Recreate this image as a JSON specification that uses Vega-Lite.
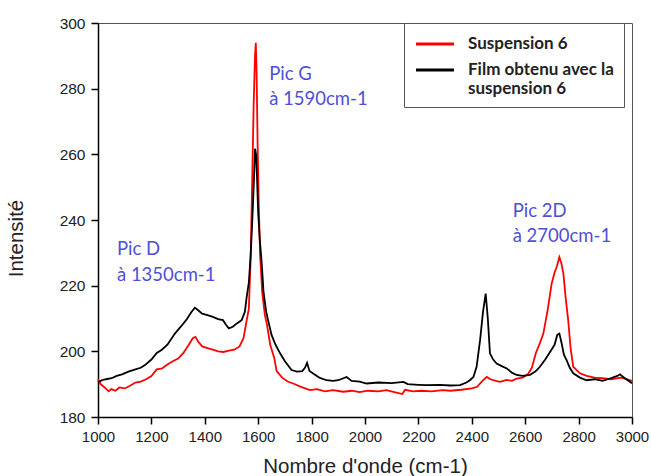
{
  "$schema": "https://vega.github.io/schema/vega-lite/v6.json",
  "width": 534,
  "height": 394,
  "autosize": "none",
  "padding": {"left": 98, "top": 23, "right": 19, "bottom": 59},
  "background": "white",
  "config": {
    "view": {"stroke": "#555", "strokeWidth": 1},
    "font": "Liberation Sans",
    "axis": {"grid": false, "domainColor": "#000", "tickColor": "#000", "domainWidth": 1.5, "tickWidth": 1.5, "labelColor": "#222", "titleColor": "#222", "labelFontSize": 15, "titleFontSize": 20.5, "titleFontWeight": "normal", "labelFont": "Liberation Sans", "titleFont": "Liberation Sans", "labelOverlap": false, "labelFlush": false}
  },
  "datasets": {
    "spectra": [
      {"wavenumber": 1000, "intensity": 191.5, "series": "Suspension 6"},
      {"wavenumber": 1010, "intensity": 190, "series": "Suspension 6"},
      {"wavenumber": 1025, "intensity": 189, "series": "Suspension 6"},
      {"wavenumber": 1040, "intensity": 187.8, "series": "Suspension 6"},
      {"wavenumber": 1050, "intensity": 188.5, "series": "Suspension 6"},
      {"wavenumber": 1065, "intensity": 188, "series": "Suspension 6"},
      {"wavenumber": 1080, "intensity": 189, "series": "Suspension 6"},
      {"wavenumber": 1100, "intensity": 188.7, "series": "Suspension 6"},
      {"wavenumber": 1120, "intensity": 189.5, "series": "Suspension 6"},
      {"wavenumber": 1140, "intensity": 190.5, "series": "Suspension 6"},
      {"wavenumber": 1160, "intensity": 190.8, "series": "Suspension 6"},
      {"wavenumber": 1180, "intensity": 191.5, "series": "Suspension 6"},
      {"wavenumber": 1200, "intensity": 192.5, "series": "Suspension 6"},
      {"wavenumber": 1220, "intensity": 194.5, "series": "Suspension 6"},
      {"wavenumber": 1240, "intensity": 194.8, "series": "Suspension 6"},
      {"wavenumber": 1260, "intensity": 196, "series": "Suspension 6"},
      {"wavenumber": 1280, "intensity": 197, "series": "Suspension 6"},
      {"wavenumber": 1300, "intensity": 197.8, "series": "Suspension 6"},
      {"wavenumber": 1320, "intensity": 199.5, "series": "Suspension 6"},
      {"wavenumber": 1340, "intensity": 202, "series": "Suspension 6"},
      {"wavenumber": 1355, "intensity": 204, "series": "Suspension 6"},
      {"wavenumber": 1365, "intensity": 204.4, "series": "Suspension 6"},
      {"wavenumber": 1375, "intensity": 203, "series": "Suspension 6"},
      {"wavenumber": 1390, "intensity": 201.5, "series": "Suspension 6"},
      {"wavenumber": 1410, "intensity": 201, "series": "Suspension 6"},
      {"wavenumber": 1430, "intensity": 200.5, "series": "Suspension 6"},
      {"wavenumber": 1450, "intensity": 200, "series": "Suspension 6"},
      {"wavenumber": 1470, "intensity": 199.8, "series": "Suspension 6"},
      {"wavenumber": 1490, "intensity": 200.2, "series": "Suspension 6"},
      {"wavenumber": 1510, "intensity": 200.5, "series": "Suspension 6"},
      {"wavenumber": 1530, "intensity": 201.5, "series": "Suspension 6"},
      {"wavenumber": 1545, "intensity": 204, "series": "Suspension 6"},
      {"wavenumber": 1557, "intensity": 209.5, "series": "Suspension 6"},
      {"wavenumber": 1565, "intensity": 213, "series": "Suspension 6"},
      {"wavenumber": 1572, "intensity": 229, "series": "Suspension 6"},
      {"wavenumber": 1577, "intensity": 250, "series": "Suspension 6"},
      {"wavenumber": 1583, "intensity": 275, "series": "Suspension 6"},
      {"wavenumber": 1588, "intensity": 290, "series": "Suspension 6"},
      {"wavenumber": 1591, "intensity": 294, "series": "Suspension 6"},
      {"wavenumber": 1594, "intensity": 285, "series": "Suspension 6"},
      {"wavenumber": 1598, "intensity": 262, "series": "Suspension 6"},
      {"wavenumber": 1602, "intensity": 245, "series": "Suspension 6"},
      {"wavenumber": 1607, "intensity": 229.7, "series": "Suspension 6"},
      {"wavenumber": 1615, "intensity": 218, "series": "Suspension 6"},
      {"wavenumber": 1625, "intensity": 211, "series": "Suspension 6"},
      {"wavenumber": 1632, "intensity": 208.5, "series": "Suspension 6"},
      {"wavenumber": 1645, "intensity": 202, "series": "Suspension 6"},
      {"wavenumber": 1660, "intensity": 198, "series": "Suspension 6"},
      {"wavenumber": 1669, "intensity": 194, "series": "Suspension 6"},
      {"wavenumber": 1690, "intensity": 192, "series": "Suspension 6"},
      {"wavenumber": 1710, "intensity": 190.8, "series": "Suspension 6"},
      {"wavenumber": 1731, "intensity": 190.2, "series": "Suspension 6"},
      {"wavenumber": 1760, "intensity": 189.2, "series": "Suspension 6"},
      {"wavenumber": 1794, "intensity": 188.2, "series": "Suspension 6"},
      {"wavenumber": 1820, "intensity": 188.5, "series": "Suspension 6"},
      {"wavenumber": 1850, "intensity": 187.8, "series": "Suspension 6"},
      {"wavenumber": 1880, "intensity": 188.2, "series": "Suspension 6"},
      {"wavenumber": 1919, "intensity": 187.7, "series": "Suspension 6"},
      {"wavenumber": 1950, "intensity": 188, "series": "Suspension 6"},
      {"wavenumber": 1980, "intensity": 187.6, "series": "Suspension 6"},
      {"wavenumber": 2010, "intensity": 188, "series": "Suspension 6"},
      {"wavenumber": 2050, "intensity": 187.8, "series": "Suspension 6"},
      {"wavenumber": 2080, "intensity": 188.2, "series": "Suspension 6"},
      {"wavenumber": 2110, "intensity": 187.6, "series": "Suspension 6"},
      {"wavenumber": 2140, "intensity": 187, "series": "Suspension 6"},
      {"wavenumber": 2150, "intensity": 188.3, "series": "Suspension 6"},
      {"wavenumber": 2180, "intensity": 187.8, "series": "Suspension 6"},
      {"wavenumber": 2210, "intensity": 188, "series": "Suspension 6"},
      {"wavenumber": 2250, "intensity": 187.8, "series": "Suspension 6"},
      {"wavenumber": 2290, "intensity": 188.2, "series": "Suspension 6"},
      {"wavenumber": 2320, "intensity": 188, "series": "Suspension 6"},
      {"wavenumber": 2360, "intensity": 188.3, "series": "Suspension 6"},
      {"wavenumber": 2400, "intensity": 188.7, "series": "Suspension 6"},
      {"wavenumber": 2420, "intensity": 189.2, "series": "Suspension 6"},
      {"wavenumber": 2440, "intensity": 191, "series": "Suspension 6"},
      {"wavenumber": 2456, "intensity": 192.2, "series": "Suspension 6"},
      {"wavenumber": 2470, "intensity": 191.5, "series": "Suspension 6"},
      {"wavenumber": 2490, "intensity": 191, "series": "Suspension 6"},
      {"wavenumber": 2506, "intensity": 190.7, "series": "Suspension 6"},
      {"wavenumber": 2530, "intensity": 191.3, "series": "Suspension 6"},
      {"wavenumber": 2550, "intensity": 191, "series": "Suspension 6"},
      {"wavenumber": 2568, "intensity": 191.7, "series": "Suspension 6"},
      {"wavenumber": 2590, "intensity": 192, "series": "Suspension 6"},
      {"wavenumber": 2610, "intensity": 193, "series": "Suspension 6"},
      {"wavenumber": 2625, "intensity": 195, "series": "Suspension 6"},
      {"wavenumber": 2640, "intensity": 199.5, "series": "Suspension 6"},
      {"wavenumber": 2655, "intensity": 202.5, "series": "Suspension 6"},
      {"wavenumber": 2668, "intensity": 205.4, "series": "Suspension 6"},
      {"wavenumber": 2685, "intensity": 213, "series": "Suspension 6"},
      {"wavenumber": 2699, "intensity": 220.6, "series": "Suspension 6"},
      {"wavenumber": 2710, "intensity": 224, "series": "Suspension 6"},
      {"wavenumber": 2718, "intensity": 225.7, "series": "Suspension 6"},
      {"wavenumber": 2728, "intensity": 228.7, "series": "Suspension 6"},
      {"wavenumber": 2735, "intensity": 227, "series": "Suspension 6"},
      {"wavenumber": 2743, "intensity": 223.7, "series": "Suspension 6"},
      {"wavenumber": 2752, "intensity": 216, "series": "Suspension 6"},
      {"wavenumber": 2761, "intensity": 209.5, "series": "Suspension 6"},
      {"wavenumber": 2770, "intensity": 201, "series": "Suspension 6"},
      {"wavenumber": 2780, "intensity": 195.3, "series": "Suspension 6"},
      {"wavenumber": 2805, "intensity": 193.3, "series": "Suspension 6"},
      {"wavenumber": 2830, "intensity": 192.5, "series": "Suspension 6"},
      {"wavenumber": 2860, "intensity": 192, "series": "Suspension 6"},
      {"wavenumber": 2890, "intensity": 191.8, "series": "Suspension 6"},
      {"wavenumber": 2920, "intensity": 191.5, "series": "Suspension 6"},
      {"wavenumber": 2960, "intensity": 192, "series": "Suspension 6"},
      {"wavenumber": 3000, "intensity": 191, "series": "Suspension 6"},
      {"wavenumber": 1000, "intensity": 190.5, "series": "Film obtenu avec la suspension 6"},
      {"wavenumber": 1014, "intensity": 191.2, "series": "Film obtenu avec la suspension 6"},
      {"wavenumber": 1030, "intensity": 191.5, "series": "Film obtenu avec la suspension 6"},
      {"wavenumber": 1051, "intensity": 191.8, "series": "Film obtenu avec la suspension 6"},
      {"wavenumber": 1070, "intensity": 192.5, "series": "Film obtenu avec la suspension 6"},
      {"wavenumber": 1090, "intensity": 193, "series": "Film obtenu avec la suspension 6"},
      {"wavenumber": 1114, "intensity": 193.8, "series": "Film obtenu avec la suspension 6"},
      {"wavenumber": 1140, "intensity": 194.5, "series": "Film obtenu avec la suspension 6"},
      {"wavenumber": 1160, "intensity": 195, "series": "Film obtenu avec la suspension 6"},
      {"wavenumber": 1176, "intensity": 195.8, "series": "Film obtenu avec la suspension 6"},
      {"wavenumber": 1200, "intensity": 197.5, "series": "Film obtenu avec la suspension 6"},
      {"wavenumber": 1220, "intensity": 199.5, "series": "Film obtenu avec la suspension 6"},
      {"wavenumber": 1238, "intensity": 200.4, "series": "Film obtenu avec la suspension 6"},
      {"wavenumber": 1260, "intensity": 202, "series": "Film obtenu avec la suspension 6"},
      {"wavenumber": 1288, "intensity": 205.4, "series": "Film obtenu avec la suspension 6"},
      {"wavenumber": 1310, "intensity": 207.5, "series": "Film obtenu avec la suspension 6"},
      {"wavenumber": 1330, "intensity": 209.5, "series": "Film obtenu avec la suspension 6"},
      {"wavenumber": 1350, "intensity": 212, "series": "Film obtenu avec la suspension 6"},
      {"wavenumber": 1363, "intensity": 213.3, "series": "Film obtenu avec la suspension 6"},
      {"wavenumber": 1375, "intensity": 212.5, "series": "Film obtenu avec la suspension 6"},
      {"wavenumber": 1390, "intensity": 211.5, "series": "Film obtenu avec la suspension 6"},
      {"wavenumber": 1410, "intensity": 211, "series": "Film obtenu avec la suspension 6"},
      {"wavenumber": 1430, "intensity": 210.5, "series": "Film obtenu avec la suspension 6"},
      {"wavenumber": 1450, "intensity": 209.8, "series": "Film obtenu avec la suspension 6"},
      {"wavenumber": 1468, "intensity": 209.5, "series": "Film obtenu avec la suspension 6"},
      {"wavenumber": 1480, "intensity": 208, "series": "Film obtenu avec la suspension 6"},
      {"wavenumber": 1490, "intensity": 207, "series": "Film obtenu avec la suspension 6"},
      {"wavenumber": 1505, "intensity": 207.5, "series": "Film obtenu avec la suspension 6"},
      {"wavenumber": 1520, "intensity": 208.5, "series": "Film obtenu avec la suspension 6"},
      {"wavenumber": 1538, "intensity": 209.5, "series": "Film obtenu avec la suspension 6"},
      {"wavenumber": 1550, "intensity": 212, "series": "Film obtenu avec la suspension 6"},
      {"wavenumber": 1557, "intensity": 216.6, "series": "Film obtenu avec la suspension 6"},
      {"wavenumber": 1565, "intensity": 221, "series": "Film obtenu avec la suspension 6"},
      {"wavenumber": 1572, "intensity": 229.7, "series": "Film obtenu avec la suspension 6"},
      {"wavenumber": 1578, "intensity": 240, "series": "Film obtenu avec la suspension 6"},
      {"wavenumber": 1584, "intensity": 252, "series": "Film obtenu avec la suspension 6"},
      {"wavenumber": 1588, "intensity": 261.7, "series": "Film obtenu avec la suspension 6"},
      {"wavenumber": 1592, "intensity": 260, "series": "Film obtenu avec la suspension 6"},
      {"wavenumber": 1596, "intensity": 252, "series": "Film obtenu avec la suspension 6"},
      {"wavenumber": 1600, "intensity": 242, "series": "Film obtenu avec la suspension 6"},
      {"wavenumber": 1606, "intensity": 234, "series": "Film obtenu avec la suspension 6"},
      {"wavenumber": 1613, "intensity": 227, "series": "Film obtenu avec la suspension 6"},
      {"wavenumber": 1620, "intensity": 218, "series": "Film obtenu avec la suspension 6"},
      {"wavenumber": 1630, "intensity": 212, "series": "Film obtenu avec la suspension 6"},
      {"wavenumber": 1637, "intensity": 209.5, "series": "Film obtenu avec la suspension 6"},
      {"wavenumber": 1650, "intensity": 205, "series": "Film obtenu avec la suspension 6"},
      {"wavenumber": 1665, "intensity": 202, "series": "Film obtenu avec la suspension 6"},
      {"wavenumber": 1682, "intensity": 199.4, "series": "Film obtenu avec la suspension 6"},
      {"wavenumber": 1700, "intensity": 197, "series": "Film obtenu avec la suspension 6"},
      {"wavenumber": 1725, "intensity": 194.3, "series": "Film obtenu avec la suspension 6"},
      {"wavenumber": 1745, "intensity": 193.8, "series": "Film obtenu avec la suspension 6"},
      {"wavenumber": 1765, "intensity": 194, "series": "Film obtenu avec la suspension 6"},
      {"wavenumber": 1775, "intensity": 195, "series": "Film obtenu avec la suspension 6"},
      {"wavenumber": 1783, "intensity": 196.5, "series": "Film obtenu avec la suspension 6"},
      {"wavenumber": 1792, "intensity": 194, "series": "Film obtenu avec la suspension 6"},
      {"wavenumber": 1810, "intensity": 193, "series": "Film obtenu avec la suspension 6"},
      {"wavenumber": 1831, "intensity": 191.9, "series": "Film obtenu avec la suspension 6"},
      {"wavenumber": 1856, "intensity": 191.2, "series": "Film obtenu avec la suspension 6"},
      {"wavenumber": 1880, "intensity": 191, "series": "Film obtenu avec la suspension 6"},
      {"wavenumber": 1900, "intensity": 191.2, "series": "Film obtenu avec la suspension 6"},
      {"wavenumber": 1931, "intensity": 192.2, "series": "Film obtenu avec la suspension 6"},
      {"wavenumber": 1950, "intensity": 191, "series": "Film obtenu avec la suspension 6"},
      {"wavenumber": 1980, "intensity": 190.8, "series": "Film obtenu avec la suspension 6"},
      {"wavenumber": 2006, "intensity": 190.2, "series": "Film obtenu avec la suspension 6"},
      {"wavenumber": 2050, "intensity": 190.5, "series": "Film obtenu avec la suspension 6"},
      {"wavenumber": 2100, "intensity": 190.3, "series": "Film obtenu avec la suspension 6"},
      {"wavenumber": 2144, "intensity": 190.7, "series": "Film obtenu avec la suspension 6"},
      {"wavenumber": 2160, "intensity": 190, "series": "Film obtenu avec la suspension 6"},
      {"wavenumber": 2200, "intensity": 189.8, "series": "Film obtenu avec la suspension 6"},
      {"wavenumber": 2231, "intensity": 189.7, "series": "Film obtenu avec la suspension 6"},
      {"wavenumber": 2280, "intensity": 189.8, "series": "Film obtenu avec la suspension 6"},
      {"wavenumber": 2320, "intensity": 189.6, "series": "Film obtenu avec la suspension 6"},
      {"wavenumber": 2356, "intensity": 189.7, "series": "Film obtenu avec la suspension 6"},
      {"wavenumber": 2380, "intensity": 190.5, "series": "Film obtenu avec la suspension 6"},
      {"wavenumber": 2393, "intensity": 191.2, "series": "Film obtenu avec la suspension 6"},
      {"wavenumber": 2406, "intensity": 192.2, "series": "Film obtenu avec la suspension 6"},
      {"wavenumber": 2418, "intensity": 195.3, "series": "Film obtenu avec la suspension 6"},
      {"wavenumber": 2431, "intensity": 203.4, "series": "Film obtenu avec la suspension 6"},
      {"wavenumber": 2442, "intensity": 212, "series": "Film obtenu avec la suspension 6"},
      {"wavenumber": 2452, "intensity": 217.6, "series": "Film obtenu avec la suspension 6"},
      {"wavenumber": 2460, "intensity": 210, "series": "Film obtenu avec la suspension 6"},
      {"wavenumber": 2468, "intensity": 199.4, "series": "Film obtenu avec la suspension 6"},
      {"wavenumber": 2480, "intensity": 197.5, "series": "Film obtenu avec la suspension 6"},
      {"wavenumber": 2493, "intensity": 196.3, "series": "Film obtenu avec la suspension 6"},
      {"wavenumber": 2512, "intensity": 195.5, "series": "Film obtenu avec la suspension 6"},
      {"wavenumber": 2531, "intensity": 194.8, "series": "Film obtenu avec la suspension 6"},
      {"wavenumber": 2550, "intensity": 193.5, "series": "Film obtenu avec la suspension 6"},
      {"wavenumber": 2568, "intensity": 192.8, "series": "Film obtenu avec la suspension 6"},
      {"wavenumber": 2590, "intensity": 192.5, "series": "Film obtenu avec la suspension 6"},
      {"wavenumber": 2618, "intensity": 192.8, "series": "Film obtenu avec la suspension 6"},
      {"wavenumber": 2640, "intensity": 194, "series": "Film obtenu avec la suspension 6"},
      {"wavenumber": 2655, "intensity": 195.3, "series": "Film obtenu avec la suspension 6"},
      {"wavenumber": 2675, "intensity": 197.5, "series": "Film obtenu avec la suspension 6"},
      {"wavenumber": 2693, "intensity": 199.8, "series": "Film obtenu avec la suspension 6"},
      {"wavenumber": 2710, "intensity": 202, "series": "Film obtenu avec la suspension 6"},
      {"wavenumber": 2720, "intensity": 205, "series": "Film obtenu avec la suspension 6"},
      {"wavenumber": 2728, "intensity": 205.4, "series": "Film obtenu avec la suspension 6"},
      {"wavenumber": 2735, "intensity": 203, "series": "Film obtenu avec la suspension 6"},
      {"wavenumber": 2745, "intensity": 199, "series": "Film obtenu avec la suspension 6"},
      {"wavenumber": 2755, "intensity": 197.3, "series": "Film obtenu avec la suspension 6"},
      {"wavenumber": 2767, "intensity": 195, "series": "Film obtenu avec la suspension 6"},
      {"wavenumber": 2780, "intensity": 193.3, "series": "Film obtenu avec la suspension 6"},
      {"wavenumber": 2805, "intensity": 192, "series": "Film obtenu avec la suspension 6"},
      {"wavenumber": 2830, "intensity": 191.2, "series": "Film obtenu avec la suspension 6"},
      {"wavenumber": 2860, "intensity": 191.5, "series": "Film obtenu avec la suspension 6"},
      {"wavenumber": 2890, "intensity": 191, "series": "Film obtenu avec la suspension 6"},
      {"wavenumber": 2920, "intensity": 191.8, "series": "Film obtenu avec la suspension 6"},
      {"wavenumber": 2945, "intensity": 192.5, "series": "Film obtenu avec la suspension 6"},
      {"wavenumber": 2955, "intensity": 193, "series": "Film obtenu avec la suspension 6"},
      {"wavenumber": 2970, "intensity": 192, "series": "Film obtenu avec la suspension 6"},
      {"wavenumber": 3000, "intensity": 190.3, "series": "Film obtenu avec la suspension 6"}
    ],
    "notes": [
      {"wavenumber": 1071, "intensity": 231.1, "text": "Pic D"},
      {"wavenumber": 1071, "intensity": 223.2, "text": "à 1350cm-1"},
      {"wavenumber": 1641, "intensity": 284.5, "text": "Pic G"},
      {"wavenumber": 1641, "intensity": 276.9, "text": "à 1590cm-1"},
      {"wavenumber": 2553, "intensity": 242.6, "text": "Pic 2D"},
      {"wavenumber": 2553, "intensity": 235, "text": "à 2700cm-1"}
    ]
  },
  "layer": [
    {
      "data": {"name": "spectra"},
      "mark": {"type": "line", "strokeWidth": 1.8},
      "encoding": {
        "x": {"field": "wavenumber", "type": "quantitative", "scale": {"domain": [1000, 3000], "nice": false, "zero": false},
          "axis": {"values": [1000, 1100, 1200, 1300, 1400, 1500, 1600, 1700, 1800, 1900, 2000, 2100, 2200, 2300, 2400, 2500, 2600, 2700, 2800, 2900, 3000],
            "format": "d", "labelExpr": "datum.value % 200 == 0 ? datum.label : ''",
            "tickSize": {"condition": {"test": "datum.value % 200 == 0", "value": 7}, "value": 4},
            "labelPadding": 5, "title": "Nombre d'onde (cm-1)", "titlePadding": 12}},
        "y": {"field": "intensity", "type": "quantitative", "scale": {"domain": [180, 300], "nice": false, "zero": false},
          "axis": {"values": [180, 190, 200, 210, 220, 230, 240, 250, 260, 270, 280, 290, 300],
            "format": "d", "labelExpr": "datum.value % 20 == 0 ? datum.label : ''",
            "tickSize": {"condition": {"test": "datum.value % 20 == 0", "value": 7}, "value": 4},
            "labelPadding": 6, "labelFontSize": 15.5, "title": "Intensité", "titlePadding": 33, "titleY": 215}},
        "color": {"field": "series", "type": "nominal",
          "scale": {"domain": ["Suspension 6", "Film obtenu avec la suspension 6"], "range": ["#ff0000", "#000000"]},
          "legend": {"title": null, "orient": "none", "legendX": 306, "legendY": 0, "padding": 10, "strokeColor": "#555", "fillColor": "white",
            "symbolType": "M-2,0H2", "symbolSize": 361, "symbolStrokeWidth": 3, "symbolOffset": 10,
            "labelFont": "Lato", "labelFontWeight": "bold", "labelFontSize": 17, "labelColor": "#222",
            "labelOffset": 22, "rowPadding": 7, "labelLimit": 0, "labelBaseline": "middle",
            "labelExpr": "datum.label == 'Suspension 6' ? datum.label : ['Film obtenu avec la  ', 'suspension 6']"}}
      }
    },
    {
      "data": {"name": "notes"},
      "mark": {"type": "text", "align": "left", "baseline": "middle", "font": "Lato", "fontSize": 18.5, "color": "#4f4fd6"},
      "encoding": {
        "x": {"field": "wavenumber", "type": "quantitative"},
        "y": {"field": "intensity", "type": "quantitative"},
        "text": {"field": "text"}
      }
    }
  ]
}
